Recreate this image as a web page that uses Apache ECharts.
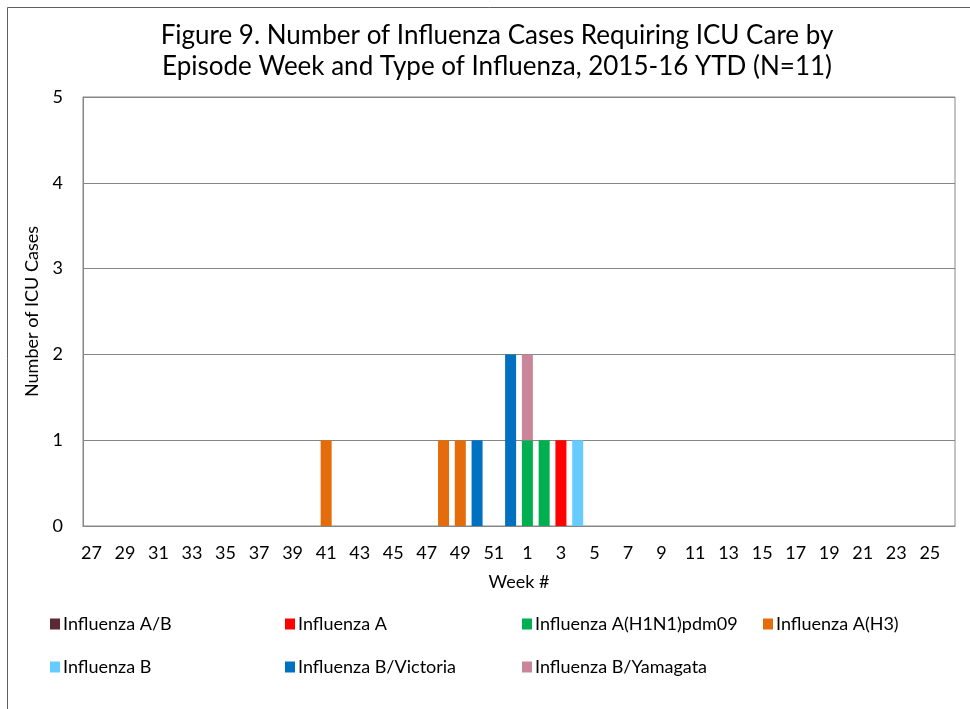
<!DOCTYPE html>
<html>
<head>
<meta charset="utf-8">
<script src="https://cdn.jsdelivr.net/npm/echarts@6/dist/echarts.min.js"></script>
<style>
  html, body { margin: 0; padding: 0; background: #fff; }
  #chart { width: 970px; height: 709px; }
</style>
</head>
<body>
<div id="chart"></div>
<script>
// week numbers, season runs week 27 to week 26
const weeks = ['27','28','29','30','31','32','33','34','35','36','37','38','39','40','41','42','43','44','45','46','47','48','49','50','51','52',
  '1','2','3','4','5','6','7','8','9','10','11','12','13','14','15','16','17','18','19','20','21','22','23','24','25','26'];

const fluAB =       [0,0,0,0,0,0,0,0,0,0,0,0,0,0,0,0,0,0,0,0,0,0,0,0,0,0, 0,0,0,0,0,0,0,0,0,0,0,0,0,0,0,0,0,0,0,0,0,0,0,0,0,0];
const fluA =        [0,0,0,0,0,0,0,0,0,0,0,0,0,0,0,0,0,0,0,0,0,0,0,0,0,0, 0,0,1,0,0,0,0,0,0,0,0,0,0,0,0,0,0,0,0,0,0,0,0,0,0,0];
const fluH1N1 =     [0,0,0,0,0,0,0,0,0,0,0,0,0,0,0,0,0,0,0,0,0,0,0,0,0,0, 1,1,0,0,0,0,0,0,0,0,0,0,0,0,0,0,0,0,0,0,0,0,0,0,0,0];
const fluH3 =       [0,0,0,0,0,0,0,0,0,0,0,0,0,0,1,0,0,0,0,0,0,1,1,0,0,0, 0,0,0,0,0,0,0,0,0,0,0,0,0,0,0,0,0,0,0,0,0,0,0,0,0,0];
const fluB =        [0,0,0,0,0,0,0,0,0,0,0,0,0,0,0,0,0,0,0,0,0,0,0,0,0,0, 0,0,0,1,0,0,0,0,0,0,0,0,0,0,0,0,0,0,0,0,0,0,0,0,0,0];
const fluVictoria = [0,0,0,0,0,0,0,0,0,0,0,0,0,0,0,0,0,0,0,0,0,0,0,1,0,2, 0,0,0,0,0,0,0,0,0,0,0,0,0,0,0,0,0,0,0,0,0,0,0,0,0,0];
const fluYamagata = [0,0,0,0,0,0,0,0,0,0,0,0,0,0,0,0,0,0,0,0,0,0,0,0,0,0, 1,0,0,0,0,0,0,0,0,0,0,0,0,0,0,0,0,0,0,0,0,0,0,0,0,0];

const seriesNames = ['Influenza A/B', 'Influenza A', 'Influenza A(H1N1)pdm09', 'Influenza A(H3)',
  'Influenza B', 'Influenza B/Victoria', 'Influenza B/Yamagata'];
const seriesData = [fluAB, fluA, fluH1N1, fluH3, fluB, fluVictoria, fluYamagata];
const colors = ['#5b2838', '#ff0000', '#00b050', '#e46c0a', '#66ccff', '#0070c0', '#c9869a'];
const yTicks = [0, 1, 2, 3, 4, 5];

// legend spots, Excel style two rows
const legendPos = [[50, 615], [285, 615], [522, 615], [763, 615], [50, 658], [285, 658], [522, 658]];

const font = 'Lato, "Open Sans", sans-serif';

var chart = echarts.init(document.getElementById('chart'));

var option = {
  animation: false,
  backgroundColor: '#fff',
  color: colors,
  textStyle: { fontFamily: font },
  title: {
    text: 'Figure 9. Number of Influenza Cases Requiring ICU Care by\nEpisode Week and Type of Influenza, 2015-16 YTD (N=11)',
    left: 497,
    textAlign: 'center',
    top: 20,
    padding: 0,
    textStyle: { fontFamily: font, fontSize: 26, fontWeight: 'normal', color: '#000', lineHeight: 31 }
  },
  graphic: [{
    type: 'rect',
    shape: { x: 7.5, y: 7.5, width: 1200, height: 1200 },
    style: { fill: 'none', stroke: '#5f5f5f', lineWidth: 1 },
    silent: true
  }],
  legend: seriesNames.map(function (n, i) {
    return {
      data: [n],
      left: legendPos[i][0],
      top: legendPos[i][1],
      padding: 0,
      itemWidth: 10,
      itemHeight: 11,
      itemGap: 2,
      icon: 'rect',
      selectedMode: false,
      textStyle: { fontFamily: font, fontSize: 18, color: '#000', padding: [0, 0, 0, -2] }
    };
  }),
  grid: {
    left: 83, right: 15, top: 97, bottom: 183,
    show: true, borderColor: '#868686', borderWidth: 1
  },
  xAxis: {
    type: 'category',
    data: weeks,
    name: 'Week #',
    nameLocation: 'middle',
    nameGap: 47,
    nameTextStyle: { fontFamily: font, fontSize: 18, color: '#000' },
    axisLine: { lineStyle: { color: '#868686' } },
    axisTick: { show: false },
    axisLabel: { interval: 1, fontFamily: font, fontSize: 18, color: '#000', margin: 18 }
  },
  yAxis: {
    type: 'value',
    min: yTicks[0],
    max: yTicks[yTicks.length - 1],
    interval: 1,
    name: 'Number of ICU Cases',
    nameLocation: 'middle',
    nameGap: 38,
    nameTextStyle: { fontFamily: font, fontSize: 18, color: '#000' },
    axisLine: { show: true, lineStyle: { color: '#868686' } },
    axisTick: { show: false },
    axisLabel: { fontFamily: font, fontSize: 18, color: '#000', margin: 20 },
    splitLine: { lineStyle: { color: '#868686' } }
  },
  series: seriesNames.map(function (n, i) {
    return {
      name: n,
      type: 'bar',
      stack: 'all',
      barWidth: 11,
      data: seriesData[i],
      itemStyle: { color: colors[i] }
    };
  })
};

chart.setOption(option);
</script>
</body>
</html>
